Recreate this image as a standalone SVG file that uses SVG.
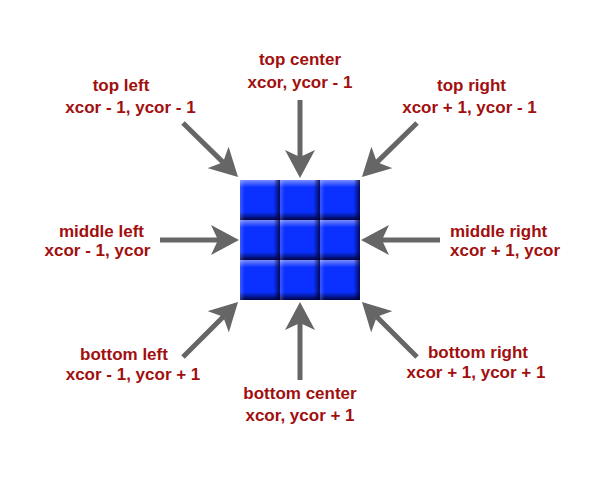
<svg xmlns="http://www.w3.org/2000/svg" xmlns:xlink="http://www.w3.org/1999/xlink" width="600" height="480" viewBox="0 0 600 480">
  <defs>
    <style>
      .lbl { font-family: "Liberation Sans", Arial, sans-serif; font-weight: bold; font-size: 17px; fill: #a10f0f; text-anchor: middle; }
      .start { text-anchor: start; }
      .conn { stroke: #666666; stroke-width: 5; fill: none; marker-end: url(#head); }
    </style>
    <marker id="head" viewBox="0 0 28 30" refX="10" refY="15" markerWidth="28" markerHeight="30" markerUnits="userSpaceOnUse" orient="auto">
      <path d="M28,15 L0,0 L7,15 L0,30 Z" fill="#666666"/>
    </marker>
    <linearGradient id="gv" x1="0" y1="0" x2="0" y2="1">
      <stop offset="0" stop-color="#ffffff" stop-opacity="0.45"/>
      <stop offset="0.18" stop-color="#ffffff" stop-opacity="0"/>
      <stop offset="0.8" stop-color="#000030" stop-opacity="0"/>
      <stop offset="1" stop-color="#000030" stop-opacity="0.9"/>
    </linearGradient>
    <linearGradient id="gh" x1="0" y1="0" x2="1" y2="0">
      <stop offset="0" stop-color="#ffffff" stop-opacity="0.2"/>
      <stop offset="0.12" stop-color="#ffffff" stop-opacity="0"/>
      <stop offset="0.84" stop-color="#000030" stop-opacity="0"/>
      <stop offset="1" stop-color="#000030" stop-opacity="0.8"/>
    </linearGradient>
    <g id="cell">
      <rect width="40" height="40" fill="#0a30ff"/>
      <rect width="40" height="40" fill="url(#gv)"/>
      <rect width="40" height="40" fill="url(#gh)"/>
    </g>
  </defs>
  <rect width="600" height="480" fill="#ffffff"/>

  <g id="grid">
    <use xlink:href="#cell" x="240" y="180"/>
    <use xlink:href="#cell" x="280" y="180"/>
    <use xlink:href="#cell" x="320" y="180"/>
    <use xlink:href="#cell" x="240" y="220"/>
    <use xlink:href="#cell" x="280" y="220"/>
    <use xlink:href="#cell" x="320" y="220"/>
    <use xlink:href="#cell" x="240" y="260"/>
    <use xlink:href="#cell" x="280" y="260"/>
    <use xlink:href="#cell" x="320" y="260"/>
  </g>

  <g id="connectors">
    <line class="conn" x1="183" y1="123" x2="225.2" y2="164.4"/>
    <line class="conn" x1="300" y1="100" x2="300" y2="160"/>
    <line class="conn" x1="417" y1="123" x2="374.8" y2="164.4"/>
    <line class="conn" x1="160" y1="240" x2="221" y2="240"/>
    <line class="conn" x1="440" y1="240" x2="379" y2="240"/>
    <line class="conn" x1="183" y1="357" x2="225.3" y2="314.7"/>
    <line class="conn" x1="300" y1="380" x2="300" y2="320"/>
    <line class="conn" x1="417" y1="357" x2="374.7" y2="314.7"/>
  </g>

  <g id="top-left">
    <text class="lbl" x="121" y="91">top left</text>
    <text class="lbl" x="130.5" y="113">xcor - 1, ycor - 1</text>
  </g>
  <g id="top-center">
    <text class="lbl" x="300" y="65">top center</text>
    <text class="lbl" x="300" y="88">xcor, ycor - 1</text>
  </g>
  <g id="top-right">
    <text class="lbl" x="471.5" y="91">top right</text>
    <text class="lbl" x="469.5" y="113">xcor + 1, ycor - 1</text>
  </g>
  <g id="middle-left">
    <text class="lbl" x="101.5" y="237">middle left</text>
    <text class="lbl" x="97.5" y="256">xcor - 1, ycor</text>
  </g>
  <g id="middle-right">
    <text class="lbl start" x="450" y="237">middle right</text>
    <text class="lbl start" x="450" y="256">xcor + 1, ycor</text>
  </g>
  <g id="bottom-left">
    <text class="lbl" x="124" y="360">bottom left</text>
    <text class="lbl" x="133" y="380">xcor - 1, ycor + 1</text>
  </g>
  <g id="bottom-center">
    <text class="lbl" x="300" y="399">bottom center</text>
    <text class="lbl" x="300" y="421">xcor, ycor + 1</text>
  </g>
  <g id="bottom-right">
    <text class="lbl" x="478" y="358">bottom right</text>
    <text class="lbl" x="476" y="378">xcor + 1, ycor + 1</text>
  </g>
</svg>
